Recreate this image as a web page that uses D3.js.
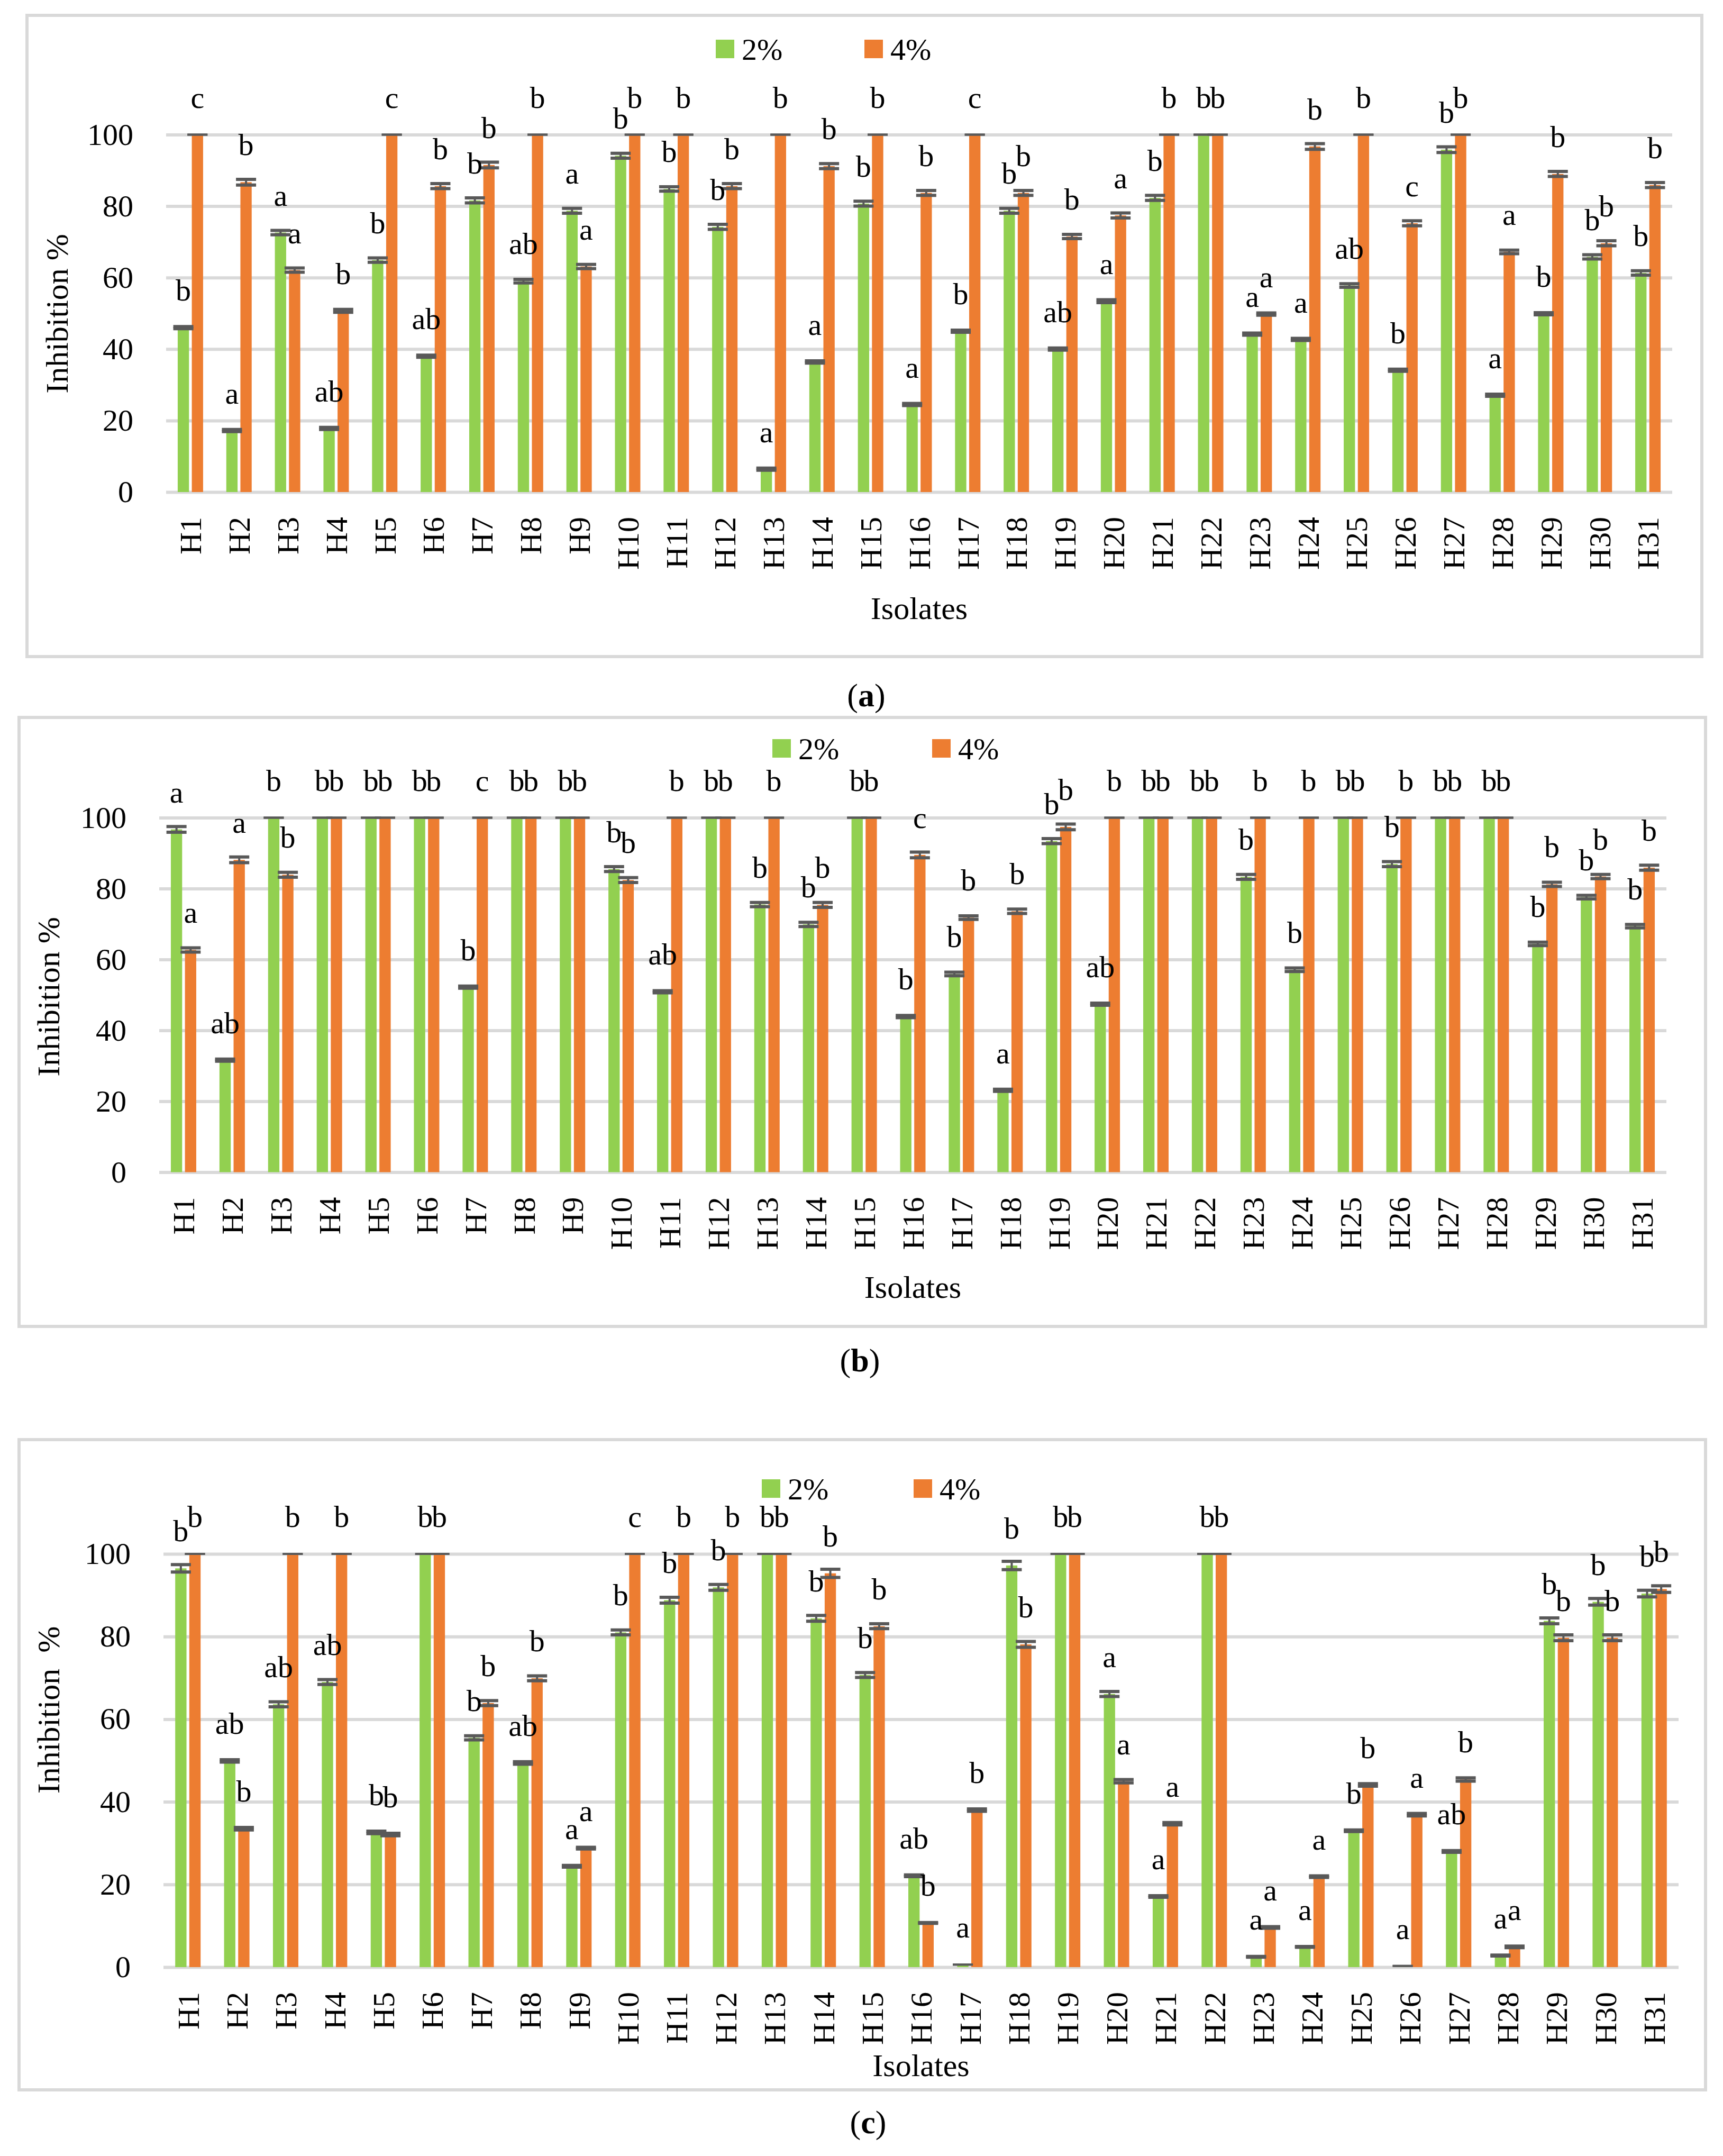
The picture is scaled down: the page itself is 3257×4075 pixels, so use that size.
<!DOCTYPE html>
<html>
<head>
<meta charset="utf-8">
<script src="https://cdn.jsdelivr.net/npm/d3@7"></script>
<style>
body { margin: 0; background: #fff; }
text { font-family: "Palatino Linotype", "Book Antiqua", Palatino, "Liberation Serif", "DejaVu Serif", serif; fill: #000; }
</style>
</head>
<body>
<svg id="chart" width="3257" height="4075"></svg>
<script>
// Data
var isolates = ["H1","H2","H3","H4","H5","H6","H7","H8","H9","H10","H11","H12","H13","H14","H15","H16",
  "H17","H18","H19","H20","H21","H22","H23","H24","H25","H26","H27","H28","H29","H30","H31"];
var yTicks = [0, 20, 40, 60, 80, 100];
var seriesNames = ["2%", "4%"];

// panel (a)
var a2 = [46.0,17.2,72.6,17.8,64.9,38.0,81.6,59.0,78.7,94.1,84.8,74.2,6.4,36.4,80.7,24.5,45.0,78.7,40.0,53.4,82.3,100,44.2,42.7,57.8,34.1,95.8,27.1,49.9,65.8,61.3];
var a4 = [100,86.7,62.1,50.7,100,85.6,91.5,100,63.1,100,100,85.6,100,91.2,100,83.7,100,83.7,71.5,77.4,100,100,49.8,96.7,100,75.2,100,67.2,89.0,69.6,85.9];
var a2err = [.3,.3,.6,.3,.6,.3,.7,.5,.7,.7,.6,.7,.3,.3,.7,.3,.3,.7,.3,.4,.7,0,.3,.3,.5,.3,.8,.3,.3,.6,.6];
var a4err = [0,.8,.6,.4,0,.7,.8,0,.6,0,0,.7,0,.7,0,.7,0,.7,.6,.7,0,0,.3,.8,0,.7,0,.5,.7,.7,.7];
var a2let = ["b","a","a","ab","b","ab","b","ab","a","b","b","b","a","a","b","a","b","b","ab","a","b","b","a","a","ab","b","b","a","b","b","b"];
var a4let = ["c","b","a","b","c","b","b","b","a","b","b","b","b","b","b","b","c","b","b","a","b","b","a","b","b","c","b","a","b","b","b"];

// panel (b)
var b2 = [96.7,31.6,100,100,100,100,52.2,100,100,85.5,50.9,100,75.5,69.9,100,43.9,55.9,23.1,93.4,47.4,100,100,83.3,57.1,100,86.9,100,100,64.4,77.6,69.4];
var b4 = [62.7,88.1,83.9,100,100,100,100,100,100,82.4,100,100,100,75.4,100,89.5,71.8,73.6,97.4,100,100,100,100,100,100,100,100,100,81.2,83.4,85.9];
var b2err = [.8,.3,0,0,0,0,.3,0,0,.7,.3,0,.6,.6,0,.3,.5,.3,.7,.3,0,0,.7,.5,0,.7,0,0,.5,.5,.5];
var b4err = [.6,.8,.7,0,0,0,0,0,0,.7,0,0,0,.7,0,.8,.5,.6,.8,0,0,0,0,0,0,0,0,0,.6,.6,.7];
var b2let = ["a","ab","b","b","b","b","b","b","b","b","ab","b","b","b","b","b","b","a","b","ab","b","b","b","b","b","b","b","b","b","b","b"];
var b4let = ["a","a","b","b","b","b","c","b","b","b","b","b","b","b","b","c","b","b","b","b","b","b","b","b","b","b","b","b","b","b","b"];

// panel (c)
var c2 = [96.5,49.9,63.6,69.0,32.6,100,55.5,49.4,24.4,81.0,88.8,91.9,100,84.4,70.7,22.1,0.6,97.2,100,66.1,17.1,100,2.5,4.9,33.0,0.3,28.0,2.8,83.8,88.4,90.4];
var c4 = [100,33.5,100,100,32.1,100,63.9,69.9,28.8,100,100,100,100,95.3,82.5,10.7,38.0,78.1,100,45.0,34.7,100,9.6,21.9,44.1,36.9,45.4,4.9,79.7,79.7,91.5];
var c2err = [.9,.3,.6,.6,.3,0,.5,.3,.2,.6,.7,.7,0,.7,.6,.2,0,1.0,0,.6,.2,0,.1,.1,.2,0,.2,.1,.7,.8,.8];
var c4err = [0,.3,0,0,.3,0,.6,.6,.2,0,0,0,0,1.0,.6,.1,.3,.7,0,.4,.3,0,.2,.2,.3,.3,.4,.2,.7,.7,.8];
var c2let = ["b","ab","ab","ab","b","b","b","ab","a","b","b","b","b","b","b","ab","a","b","b","a","a","b","a","a","b","a","ab","a","b","b","b"];
var c4let = ["b","b","b","b","b","b","b","b","a","c","b","b","b","b","b","b","b","b","b","a","a","b","a","a","b","a","b","a","b","b","b"];

var colors = {"2%": "#92d050", "4%": "#ed7d31"};

// Layout of the three panels
var panels = [
  {tag: "a", fx0: 51, fy0: 29, fx1: 3217, fy1: 1241, left: 314, right: 3161, y0: 930, y100: 254.5,
   legG: 1353, legO: 1634, legY: 75, titleX: 128, titleY: 593, title: "Inhibition %", isoY: 1170, capY: 1335,
   s2: a2, s4: a4, e2: a2err, e4: a4err, l2: a2let, l4: a4let},
  {tag: "b", fx0: 36, fy0: 1356, fx1: 3224, fy1: 2507, left: 301, right: 3150, y0: 2215.5, y100: 1545.5,
   legG: 1460, legO: 1762, legY: 1397, titleX: 112, titleY: 1884, title: "Inhibition %", isoY: 2453, capY: 2592,
   s2: b2, s4: b4, e2: b2err, e4: b4err, l2: b2let, l4: b4let},
  {tag: "c", fx0: 36, fy0: 2721, fx1: 3224, fy1: 3950, left: 309, right: 3173, y0: 3718, y100: 2937,
   legG: 1440, legO: 1727, legY: 2796, titleX: 112, titleY: 3232, title: "Inhibition\u00a0\u00a0%", isoY: 3924, capY: 4032,
   s2: c2, s4: c4, e2: c2err, e4: c4err, l2: c2let, l4: c4let}
];

var svg = d3.select("#chart");
svg.append("rect").attr("width", 3257).attr("height", 4075).attr("fill", "#fff");

function drawPanel(p) {
  var g = svg.append("g");

  // frame
  g.append("rect")
    .attr("x", p.fx0).attr("y", p.fy0)
    .attr("width", p.fx1 - p.fx0).attr("height", p.fy1 - p.fy0)
    .attr("fill", "none").attr("stroke", "#d9d9d9").attr("stroke-width", 6);

  var x = d3.scaleBand().domain(isolates).range([p.left, p.right]);
  var xs = d3.scaleBand().domain(seriesNames).range([0, 48]).paddingInner(0.2);
  var y = d3.scaleLinear().domain([0, 100]).range([p.y0, p.y100]);

  // y axis + gridlines
  var yAxis = g.append("g")
    .attr("transform", `translate(${p.left},0)`)
    .call(d3.axisLeft(y).tickValues(yTicks).tickSize(-(p.right - p.left)).tickPadding(62).tickFormat(d3.format("d")));
  yAxis.attr("font-size", 58).attr("font-family", null);
  yAxis.select(".domain").remove();
  yAxis.selectAll("line").attr("stroke", "#d9d9d9").attr("stroke-width", 6);

  // x axis labels
  var xAxis = g.append("g")
    .attr("transform", `translate(0,${p.y0})`)
    .call(d3.axisBottom(x).tickSize(0).tickPadding(0));
  xAxis.attr("font-size", 58).attr("font-family", null);
  xAxis.select(".domain").remove();
  xAxis.selectAll("text")
    .attr("transform", "rotate(-90)")
    .attr("x", -47).attr("y", 0).attr("dy", "0.35em")
    .style("text-anchor", "end");

  // bars table
  var rows = [];
  isolates.forEach(function(iso, i) {
    rows.push({iso: iso, s: "2%", v: p.s2[i], e: p.e2[i], lab: p.l2[i]});
    rows.push({iso: iso, s: "4%", v: p.s4[i], e: p.e4[i], lab: p.l4[i]});
  });
  function cx(d) { return x(d.iso) + x.bandwidth() / 2 - 24 + xs(d.s) + xs.bandwidth() / 2; }

  g.append("g").selectAll("rect")
    .data(rows)
    .enter()
    .append("rect")
    .attr("x", d => cx(d) - xs.bandwidth() / 2)
    .attr("width", xs.bandwidth())
    .attr("y", d => y(d.v))
    .attr("height", d => y(0) - y(d.v))
    .attr("fill", d => colors[d.s]);

  // error bars
  var eb = g.append("g").selectAll("g")
    .data(rows)
    .enter()
    .append("g")
    .attr("stroke", "#595959");
  eb.append("line")
    .attr("x1", cx).attr("x2", cx)
    .attr("y1", d => y(d.v - d.e)).attr("y2", d => y(d.v + d.e))
    .attr("stroke-width", 4);
  eb.append("line")
    .attr("x1", d => cx(d) - 19).attr("x2", d => cx(d) + 19)
    .attr("y1", d => y(d.v + d.e)).attr("y2", d => y(d.v + d.e))
    .attr("stroke-width", d => d.e > 0 ? 6 : 4);
  eb.append("line")
    .attr("x1", d => cx(d) - 19).attr("x2", d => cx(d) + 19)
    .attr("y1", d => y(d.v - d.e)).attr("y2", d => y(d.v - d.e))
    .attr("stroke-width", d => d.e > 0 ? 6 : 4);

  // letters
  g.append("g").selectAll("text")
    .data(rows)
    .enter()
    .append("text")
    .attr("x", cx)
    .attr("y", d => y(d.v) - 51)
    .attr("text-anchor", "middle")
    .style("font-size", "58px")
    .text(d => d.lab);

  // legend
  var leg = g.append("g");
  [["2%", p.legG], ["4%", p.legO]].forEach(function(l) {
    leg.append("rect").attr("x", l[1]).attr("y", p.legY).attr("width", 35).attr("height", 35).attr("fill", colors[l[0]]);
    leg.append("text").attr("x", l[1] + 49).attr("y", p.legY + 38).style("font-size", "58px").text(l[0]);
  });

  // axis titles
  g.append("text")
    .attr("transform", `translate(${p.titleX},${p.titleY}) rotate(-90)`)
    .attr("text-anchor", "middle")
    .style("font-size", "60px")
    .text(p.title);

  g.append("text")
    .attr("x", (p.left + p.right) / 2)
    .attr("y", p.isoY)
    .attr("text-anchor", "middle")
    .style("font-size", "60px")
    .text("Isolates");

  // caption
  var cap = g.append("text")
    .attr("x", (p.left + p.right) / 2 - 100)
    .attr("y", p.capY)
    .attr("text-anchor", "middle")
    .style("font-size", "62px");
  cap.append("tspan").text("(");
  cap.append("tspan").style("font-weight", "bold").text(p.tag);
  cap.append("tspan").text(")");
}

panels.forEach(drawPanel);
</script>
</body>
</html>
